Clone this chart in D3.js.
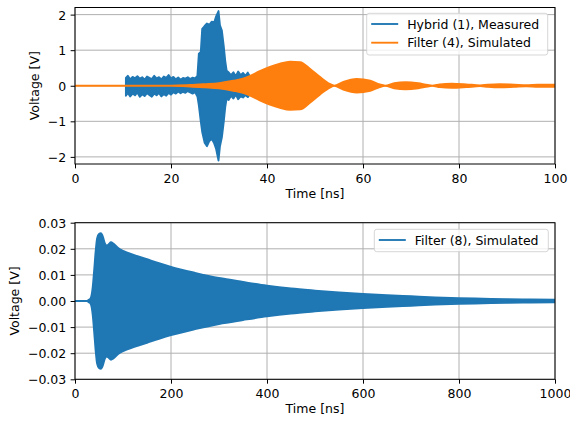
<!DOCTYPE html>
<html><head><meta charset="utf-8">
<script src="https://cdn.jsdelivr.net/npm/d3@7"></script>
<style>body{margin:0;background:#fff} svg text{font-family:"DejaVu Sans",sans-serif;}</style>
</head><body>
<svg id="c" width="570" height="421"></svg>
<script>
// ---------- data ----------
// Top panel: Hybrid (1), Measured -- envelope of the dense measured trace
const hybridT = [10.6,11,11.5,12,12.5,13,13.5,14,14.5,15,15.5,16,16.5,17,17.5,18,18.5,19,19.5,20,20.5,21,21.5,22,22.5,23,23.5,24,24.5,25,25.5,25.8,26.2,26.5,27,27.5,28,28.5,29,29.4,29.9,30.2,30.6,31,31.3,31.6,32,32.5,33,33.5,34,34.5,35,35.5,36,36.5];
const hybridUpper = [0.22,0.28,0.18,0.25,0.21,0.27,0.2,0.24,0.17,0.26,0.22,0.19,0.28,0.21,0.24,0.18,0.26,0.22,0.3,0.2,0.25,0.18,0.23,0.17,0.22,0.2,0.24,0.19,0.23,0.21,0.28,0.9,0.95,1.6,1.68,1.75,1.72,1.8,1.78,1.95,2.1,1.7,1.55,1.1,0.7,0.42,0.38,0.3,0.38,0.27,0.4,0.3,0.36,0.28,0.37,0.25];
const hybridLower = [-0.28,-0.2,-0.3,-0.22,-0.27,-0.19,-0.31,-0.24,-0.29,-0.21,-0.26,-0.31,-0.22,-0.27,-0.2,-0.3,-0.24,-0.28,-0.2,-0.25,-0.18,-0.22,-0.16,-0.21,-0.17,-0.2,-0.15,-0.19,-0.22,-0.18,-0.3,-0.55,-1.0,-1.3,-1.6,-1.7,-1.55,-1.5,-1.62,-1.78,-2.1,-1.7,-1.45,-1.0,-0.6,-0.35,-0.4,-0.28,-0.36,-0.25,-0.38,-0.3,-0.33,-0.26,-0.32,-0.22];
// Top panel: Filter (4), Simulated -- envelope amplitude of the oscillation
const filter4T   = [0,16,20,24,27,30,33,35,36.5,38.5,40.6,42.7,44.8,46.9,49,51,53.1,54,55.9,58.7,61.5,63.5,64.6,66.5,68.9,71.5,73.5,74.4,76,78.5,81.5,84.4,86,88.5,91.5,94,96.5,100];
const filter4Amp = [0,0,0.005,0.02,0.045,0.075,0.14,0.2,0.28,0.41,0.53,0.62,0.675,0.665,0.47,0.25,0.05,0.005,0.11,0.19,0.14,0.035,0.005,0.07,0.1,0.07,0.02,0.005,0.04,0.06,0.04,0.01,0.03,0.045,0.03,0.015,0.03,0.03];
// Bottom panel: Filter (8), Simulated -- envelope amplitude
const filter8T   = [0,25,28,31,34,37,40,43,46,50,54,58,62,66,70,75,80,90,100,125,150,175,200,250,300,350,400,450,500,550,600,650,700,750,800,850,900,950,1000];
const filter8Amp = [0,0,0.0004,0.0007,0.0018,0.0055,0.012,0.019,0.024,0.0257,0.026,0.0247,0.0222,0.0213,0.0217,0.0225,0.022,0.0203,0.0192,0.0175,0.016,0.0145,0.0131,0.0108,0.0088,0.0073,0.0059,0.0048,0.004,0.0033,0.0027,0.0022,0.0018,0.0014,0.0011,0.0009,0.0007,0.0006,0.0005];
// ticks and labels
const topXTicks = [0,20,40,60,80,100];
const topYTicks = [-2,-1,0,1,2];
const botXTicks = [0,200,400,600,800,1000];
const botYTicks = [-0.03,-0.02,-0.01,0,0.01,0.02,0.03];
const topLegend = ["Hybrid (1), Measured","Filter (4), Simulated"];
const botLegend = ["Filter (8), Simulated"];
const xLabel = "Time [ns]";
const yLabel = "Voltage [V]";

// ---------- drawing ----------
const BLUE = "#1f77b4", ORANGE = "#ff7f0e";
const FS = 12.5, TICK = 4.375, PAD = 4.375, LW = 1.875;
const svg = d3.select("#c");
const L = 75, R = 555;

function panel(id, top, bottom, xDom, yDom, xTicks, yTicks, yFmt, yLabelX) {
  const g = svg.append("g");
  const x = d3.scaleLinear().domain(xDom).range([L, R]);
  const y = d3.scaleLinear().domain(yDom).range([bottom, top]);
  // grid
  g.append("g").selectAll("line").data(xTicks).join("line")
    .attr("x1", d => x(d)).attr("x2", d => x(d)).attr("y1", top).attr("y2", bottom)
    .attr("stroke", "#b0b0b0").attr("stroke-width", 1);
  g.append("g").selectAll("line").data(yTicks).join("line")
    .attr("x1", L).attr("x2", R).attr("y1", d => y(d)).attr("y2", d => y(d))
    .attr("stroke", "#b0b0b0").attr("stroke-width", 1);
  // clip
  svg.append("clipPath").attr("id", id).append("rect")
    .attr("x", L).attr("y", top).attr("width", R - L).attr("height", bottom - top);
  const plot = g.append("g").attr("clip-path", `url(#${id})`);
  // axes
  const ax = g.append("g").attr("transform", `translate(0,${bottom})`)
    .call(d3.axisBottom(x).tickValues(xTicks).tickFormat(d3.format("d")).tickSize(TICK).tickPadding(PAD).tickSizeOuter(0));
  const ay = g.append("g").attr("transform", `translate(${L},0)`)
    .call(d3.axisLeft(y).tickValues(yTicks).tickFormat(yFmt).tickSize(TICK).tickPadding(PAD).tickSizeOuter(0));
  [ax, ay].forEach(a => {
    a.attr("font-family", null).attr("font-size", null);
    a.select(".domain").remove();
    a.selectAll(".tick line").attr("stroke", "#000").attr("stroke-width", 1);
    a.selectAll(".tick text").attr("fill", "#000").style("font-size", FS + "px");
  });
  ax.selectAll(".tick text").attr("dy", "0.78em");
  ay.selectAll(".tick text").attr("dy", "0.36em");
  // labels
  g.append("text").attr("x", (L + R) / 2).attr("y", bottom + 33.8)
    .attr("text-anchor", "middle").style("font-size", FS + "px").text(xLabel);
  g.append("text").attr("transform", `translate(${yLabelX},${(top + bottom) / 2}) rotate(-90)`)
    .attr("text-anchor", "middle").style("font-size", FS + "px").text(yLabel);
  return {g, plot, x, y, top, bottom};
}

function spines(p) {
  p.g.append("rect").attr("x", L).attr("y", p.top).attr("width", R - L).attr("height", p.bottom - p.top)
    .attr("fill", "none").attr("stroke", "#000").attr("stroke-width", 1);
}

function legend(p, items, box) {
  const lg = p.g.append("g");
  lg.append("rect").attr("x", box.x).attr("y", box.y).attr("width", box.w).attr("height", box.h)
    .attr("rx", 2.5).attr("fill", "#fff").attr("fill-opacity", 0.8)
    .attr("stroke", "#cccccc").attr("stroke-opacity", 0.8).attr("stroke-width", 1);
  items.forEach((it, i) => {
    const cy = box.y + 10.7 + i * 18.7;
    lg.append("line").attr("x1", box.x + 4.5).attr("x2", box.x + 31.5).attr("y1", cy).attr("y2", cy)
      .attr("stroke", it.color).attr("stroke-width", LW);
    lg.append("text").attr("x", box.x + 40.5).attr("y", cy).attr("dy", "0.36em")
      .style("font-size", FS + "px").attr("fill", "#000").text(it.label);
  });
}

// ----- top panel -----
const p1 = panel("clipTop", 7.5, 164, [0, 100], [-2.2, 2.2], topXTicks, topYTicks, d3.format("d"), 39);
const hybridData = hybridT.map((t, i) => ({t, hi: hybridUpper[i], lo: hybridLower[i]}));
const f4Data = filter4T.map((t, i) => ({t, hi: filter4Amp[i], lo: -filter4Amp[i]}));
p1.plot.append("path").datum(hybridData)
  .attr("d", d3.area().x(d => p1.x(d.t)).y0(d => p1.y(d.lo)).y1(d => p1.y(d.hi)))
  .attr("fill", BLUE).attr("stroke", BLUE).attr("stroke-width", LW).attr("stroke-linejoin", "round");
p1.plot.append("path").datum(f4Data)
  .attr("d", d3.area().curve(d3.curveMonotoneX).x(d => p1.x(d.t)).y0(d => p1.y(d.lo)).y1(d => p1.y(d.hi)))
  .attr("fill", ORANGE).attr("stroke", ORANGE).attr("stroke-width", LW).attr("stroke-linejoin", "round");
spines(p1);
legend(p1, [{label: topLegend[0], color: BLUE}, {label: topLegend[1], color: ORANGE}],
  {x: 366.7, y: 13.3, w: 181, h: 41.7});

// ----- bottom panel -----
const p2 = panel("clipBot", 222.7, 379.3, [0, 1000], [-0.03, 0.03], botXTicks, botYTicks, d3.format(".2f"), 19);
const f8Data = filter8T.map((t, i) => ({t, hi: filter8Amp[i], lo: -filter8Amp[i]}));
p2.plot.append("path").datum(f8Data)
  .attr("d", d3.area().curve(d3.curveMonotoneX).x(d => p2.x(d.t)).y0(d => p2.y(d.lo)).y1(d => p2.y(d.hi)))
  .attr("fill", BLUE).attr("stroke", BLUE).attr("stroke-width", LW).attr("stroke-linejoin", "round");
spines(p2);
legend(p2, [{label: botLegend[0], color: BLUE}], {x: 374.3, y: 229.3, w: 174, h: 22.4});
</script>
</body></html>
